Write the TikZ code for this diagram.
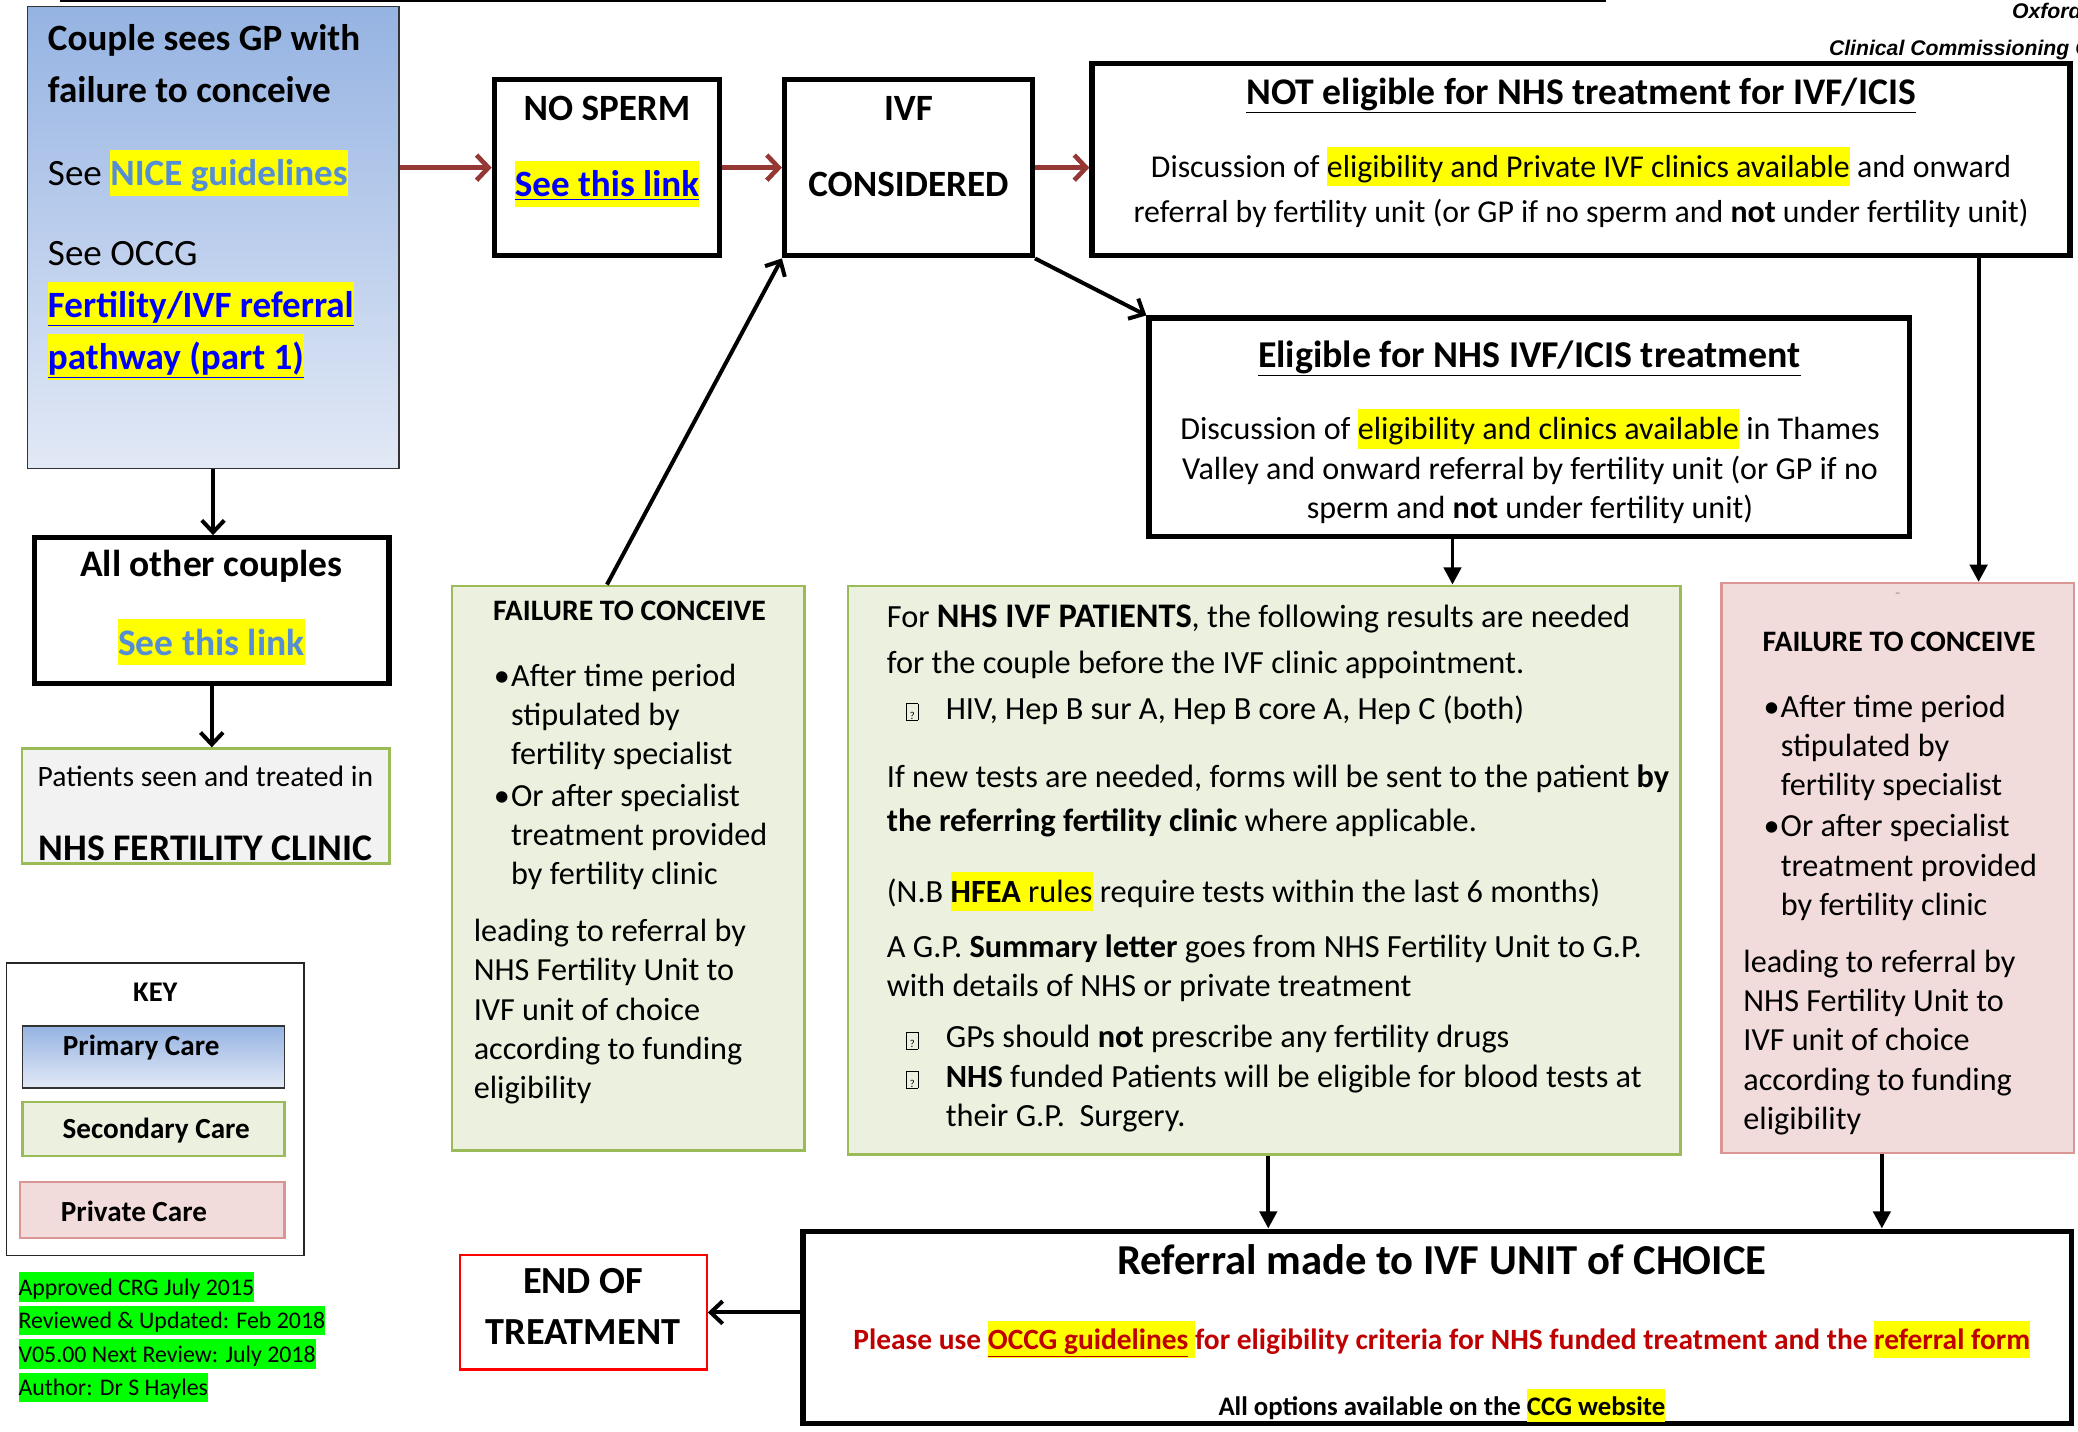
\documentclass[tikz,border=0pt]{standalone}
\usepackage{fontspec}
\setmainfont{Carlito}
\newfontfamily\arialfont{Liberation Sans}
\usetikzlibrary{arrows.meta}

\definecolor{bluetop}{RGB}{149,179,226}
\definecolor{bluebot}{RGB}{226,233,246}
\definecolor{secfill}{RGB}{235,241,222}
\definecolor{secline}{RGB}{155,187,89}
\definecolor{privfill}{RGB}{242,220,219}
\definecolor{privline}{RGB}{217,150,148}
\definecolor{greyfill}{RGB}{242,242,242}
\definecolor{arrowred}{RGB}{149,55,53}
\definecolor{linkblue}{RGB}{0,0,255}
\definecolor{lightlink}{RGB}{85,142,213}
\definecolor{darkred}{RGB}{192,0,0}
\definecolor{hlyellow}{RGB}{255,255,0}
\definecolor{hlgreen}{RGB}{0,255,0}

\newcommand{\hlt}[2][hlyellow]{{\setlength{\fboxsep}{0pt}\colorbox{#1}{\rule[-0.27em]{0pt}{1.23em}#2}}}
\newcommand{\missbox}{{\setlength{\fboxsep}{0.5pt}\setlength{\fboxrule}{0.6pt}\fbox{\rule{0pt}{11pt}\makebox[7pt]{\fontsize{8}{8}\selectfont ?}}}}
\newcommand{\fsz}[2]{\fontsize{#1}{#2}\selectfont}

\begin{document}
\begin{tikzpicture}[x=1pt, y=-1pt,
    thickbox/.style={draw, line width=4pt, inner sep=0pt},
    primbox/.style={draw=black!80, line width=1.2pt, top color=bluetop, bottom color=bluebot, inner sep=0pt},
    secbox/.style={draw=secline, line width=1.8pt, fill=secfill, inner sep=0pt},
    privbox/.style={draw=privline, line width=1.8pt, fill=privfill, inner sep=0pt},
    lbl/.style={inner sep=0pt, anchor=base west, align=left},
    clbl/.style={inner sep=0pt, anchor=base, align=center},
    redarrow/.style={draw=arrowred, line width=3.5pt, -{Straight Barb[length=9pt,width=19pt]}},
    openarrow/.style={line width=3pt, -{Straight Barb[length=9pt,width=17pt]}},
    fillarrow/.style={line width=3pt, -{Triangle[length=13pt,width=13pt]}}
  ]
  \useasboundingbox (0,0) rectangle (1568,1080);
  \clip (0,0) rectangle (1568,1080);
  \fill[white] (0,0) rectangle (1568,1080);

  % Header
  \draw[line width=1.3pt] (45,0.6) -- (1212,0.6);
  \node[lbl, font=\arialfont\bfseries\itshape\fsz{16}{20}] (oxford) at (1518,14.3) {Oxford};
  \node[lbl, font=\arialfont\bfseries\itshape\fsz{16}{20}] (ccg) at (1379.9,41.5) {Clinical Commissioning G};

  % Boxes
  \node[primbox, minimum width=280.3, minimum height=348.4] (blue) at (160.75,179.2) {};
  \node[thickbox, minimum width=170, minimum height=133] (nosperm) at (458,126.5) {};
  \node[thickbox, minimum width=187, minimum height=133] (ivf) at (685.5,126.5) {};
  \node[thickbox, minimum width=738, minimum height=145] (noteligible) at (1193,120.5) {};
  \node[thickbox, minimum width=574, minimum height=165] (eligible) at (1154,322.5) {};
  \node[thickbox, minimum width=267.6, minimum height=109.9] (allother) at (159.8,460.75) {};
  \node[draw=secline, line width=1.8pt, fill=greyfill, inner sep=0pt, minimum width=277.4, minimum height=86.8] (patients) at (155.1,608.2) {};
  \node[secbox, minimum width=266, minimum height=426] (faill) at (474,655) {};
  \node[secbox, minimum width=628, minimum height=429] (nhs) at (954,656.5) {};
  \node[privbox, minimum width=266, minimum height=430] (failr) at (1432,655) {};
  \node[thickbox, minimum width=957, minimum height=145] (referral) at (1084.5,1001.5) {};
  \node[draw=red, line width=1.6pt, inner sep=0pt, minimum width=186.1, minimum height=86.2] (endbox) at (440.25,990.3) {};

  % Key
  \node[draw=black!85, line width=1.2pt, inner sep=0pt, minimum width=224.4, minimum height=220.9] (key) at (117.2,836.95) {};
  \node[primbox, minimum width=197.7, minimum height=46.8] (keyprim) at (115.75,797.5) {};
  \node[secbox, minimum width=197.7, minimum height=40.8] (keysec) at (115.75,851.8) {};
  \node[privbox, minimum width=199.5, minimum height=42.3] (keypriv) at (114.85,912.95) {};

  % Arrows
  \draw[redarrow] (nosperm.west -| blue.east) -- (nosperm.west);
  \draw[redarrow] (nosperm.east) -- (ivf.west);
  \draw[redarrow] (ivf.east) -- (ivf.east -| noteligible.west);
  \draw[openarrow] (blue.south) -- (blue.south |- allother.north);
  \draw[openarrow] (allother.south) -- (allother.south |- patients.north);
  \draw[openarrow] ([xshift=-16pt]faill.north) -- (ivf.south west);
  \draw[openarrow] (ivf.south east) -- (eligible.north west);
  \draw[fillarrow] ([xshift=-58pt]eligible.south) -- ([xshift=-58pt]eligible.south |- nhs.north);
  \draw[fillarrow] ([xshift=300pt]noteligible.south) -- ([xshift=300pt]noteligible.south |- failr.north);
  \draw[fillarrow] ([xshift=3pt]nhs.south) -- ([xshift=3pt]nhs.south |- referral.north);
  \draw[fillarrow] ([xshift=-12pt]failr.south) -- ([xshift=-12pt]failr.south |- referral.north);
  \draw[openarrow] (referral.west |- endbox.east) -- (endbox.east);

  % Texts (multi-line nodes sit on their last baseline)
  \node[lbl, font=\fsz{28}{39.5}] (bluetxt) at (36,279) {%
    \textbf{Couple sees GP with}\\
    \textbf{failure to conceive}\\[23pt]
    See \hlt{\textcolor{lightlink}{\textbf{NICE guidelines}}}\\[20.5pt]
    See OCCG\\
    \hlt{\textcolor{linkblue}{\textbf{\underline{Fertility/IVF referral}}}}\\
    \hlt{\textcolor{linkblue}{\textbf{\underline{pathway (part 1)}}}}};
  \node[clbl, font=\bfseries\fsz{28}{57.4}] (nospermtxt) at (458,148.4) {NO SPERM\\\hlt{\textcolor{linkblue}{\underline{See this link}}}};
  \node[clbl, font=\bfseries\fsz{28}{57.4}] (ivftxt) at (685.5,148.4) {IVF\\CONSIDERED};
  \node[clbl, font=\bfseries\fsz{28.4}{30}] (notelighead) at (1193,78.8) {\underline{NOT eligible for NHS treatment for IVF/ICIS}};
  \node[clbl, font=\fsz{24}{33.8}] (noteligtxt) at (1193,167.8) {Discussion of \hlt{eligibility and Private IVF clinics available} and onward\\referral by fertility unit (or GP if no sperm and \textbf{not} under fertility unit)};
  \node[clbl, font=\bfseries\fsz{28.6}{30}] (eligiblehead) at (1154,277) {\underline{Eligible for NHS IVF/ICIS treatment}};
  \node[clbl, font=\fsz{24.2}{29.5}] (eligibletxt) at (1154.5,391) {Discussion of \hlt{eligibility and clinics available} in Thames\\Valley and onward referral by fertility unit (or GP if no\\sperm and \textbf{not} under fertility unit)};
  \node[clbl, font=\bfseries\fsz{28.3}{59}] (allothertxt) at (159.5,494.3) {All other couples\\\hlt{\textcolor{lightlink}{See this link}}};
  \node[clbl, font=\fsz{22.3}{25}] (patientsa) at (155,593.2) {Patients seen and treated in};
  \node[clbl, font=\bfseries\fsz{28.4}{30}] (patientsb) at (155,649.6) {NHS FERTILITY CLINIC};

  % FAILURE TO CONCEIVE (secondary and private)
  \foreach \bx/\x/\y in {faill/341/442, failr/1299/465.2} {
    \node[lbl, font=\bfseries\fsz{22.4}{25}] (\bx head) at (\x+30.8,\y+26.3) {FAILURE TO CONCEIVE};
    \node[lbl, font=\fsz{24.3}{29.6}] (\bx items) at (\x+31.5,\y+225.4) {%
      \makebox[13pt][l]{•}After time period\\
      \hspace*{13pt}stipulated by\\
      \hspace*{13pt}fertility specialist\\[1.5pt]
      \makebox[13pt][l]{•}Or after specialist\\
      \hspace*{13pt}treatment provided\\
      \hspace*{13pt}by fertility clinic};
    \node[lbl, font=\fsz{24.3}{29.6}] (\bx note) at (\x+16.3,\y+387) {leading to referral by\\NHS Fertility Unit to\\IVF unit of choice\\according to funding\\eligibility};
  }
  \node[clbl, font=\fsz{8}{8}, text=black!60] (dash) at (1432,450) {–};

  \node[lbl, font=\fsz{24.4}{29.7}] (nhstxt) at (669,850) {%
    For {\bfseries\fsz{26}{29.7}NHS IVF PATIENTS}, the following results are needed\\[4.9pt]
    for the couple before the IVF clinic appointment.\\[4.8pt]
    \makebox[44.5pt][l]{\hspace*{14.6pt}\missbox}HIV, Hep B sur A, Hep B core A, Hep C (both)\\[21.6pt]
    If new tests are needed, forms will be sent to the patient \textbf{by}\\[3.8pt]
    \textbf{the referring fertility clinic} where applicable.\\[23.9pt]
    (N.B \hlt{\textbf{HFEA} rules} require tests within the last 6 months)\\[11.5pt]
    A G.P. \textbf{Summary letter} goes from NHS Fertility Unit to G.P.\\
    with details of NHS or private treatment\\[8.9pt]
    \makebox[44.5pt][l]{\hspace*{14.6pt}\missbox}GPs should \textbf{not} prescribe any fertility drugs\\
    \makebox[44.5pt][l]{\hspace*{14.6pt}\missbox}\textbf{NHS} funded Patients will be eligible for blood tests at\\
    \hspace*{44.5pt}their G.P.\ \ Surgery.};

  \node[clbl, font=\bfseries\fsz{32.2}{35}] (referralhead) at (1088,961.4) {Referral made to IVF UNIT of CHOICE};
  \node[clbl, font=\bfseries\fsz{22.2}{25}, text=darkred] (referraltxt) at (1088,1018.4) {Please use \hlt{\underline{OCCG guidelines} }for eligibility criteria for NHS funded treatment and the \hlt{referral form}};
  \node[clbl, font=\bfseries\fsz{20.2}{22}] (referralnote) at (1088,1067.7) {All options available on the \hlt{CCG website}};
  \node[clbl, font=\bfseries\fsz{28.9}{38.5}] (endtxt) at (440,1014.6) {END OF\\TREATMENT};

  % Key texts
  \node[clbl, font=\bfseries\fsz{21.5}{25}] (keytxt) at (117.2,756) {KEY};
  \node[lbl, font=\bfseries\fsz{22}{25}] (primtxt) at (47.3,796.2) {Primary Care};
  \node[lbl, font=\bfseries\fsz{22}{25}] (sectxt) at (47,859.1) {Secondary Care};
  \node[lbl, font=\bfseries\fsz{22}{25}] (privtxt) at (45.8,922) {Private Care};

  % Version note
  \node[lbl, font=\fsz{18}{25.3}] (approval) at (13.8,1053.3) {\hlt[hlgreen]{Approved CRG July 2015}\\\hlt[hlgreen]{Reviewed \& Updated: Feb 2018}\\\hlt[hlgreen]{V05.00 Next Review: July 2018}\\\hlt[hlgreen]{Author: Dr S Hayles}};
\end{tikzpicture}
\end{document}
